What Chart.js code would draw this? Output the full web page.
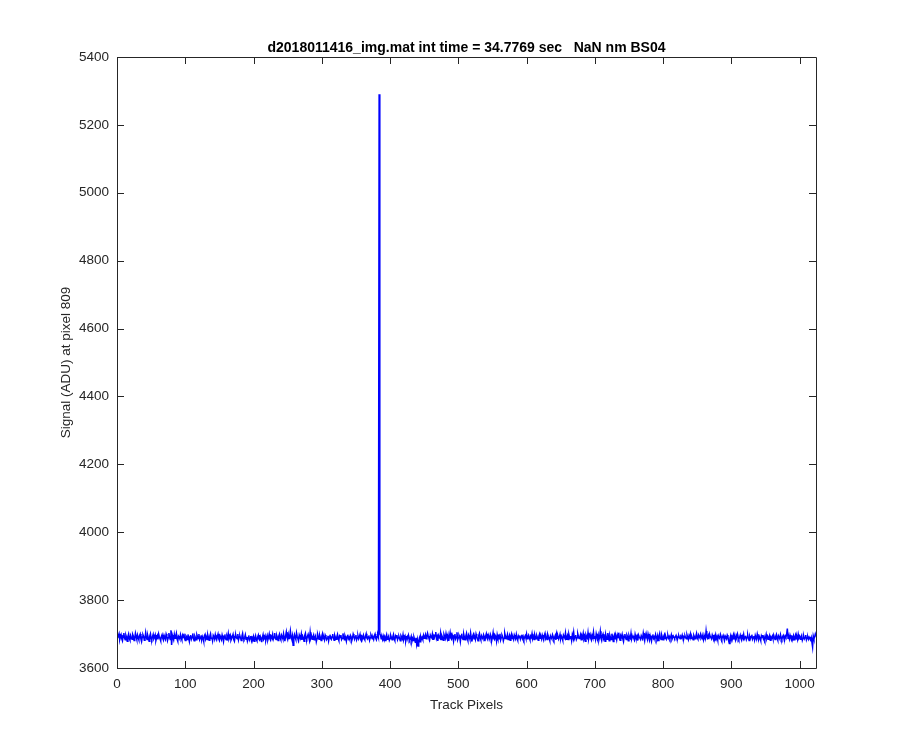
<!DOCTYPE html>
<html>
<head>
<meta charset="utf-8">
<script src="https://cdn.jsdelivr.net/npm/chart.js@4"></script>
<style>
  html, body { margin: 0; padding: 0; background: #ffffff; }
</style>
</head>
<body>
<canvas id="myChart" width="900" height="750"></canvas>
<script>
var titleText = "d2018011416_img.mat int time = 34.7769 sec   NaN nm BS04";
var xLabel = "Track Pixels";
var yLabel = "Signal (ADU) at pixel 809";
var xTicks = [0, 100, 200, 300, 400, 500, 600, 700, 800, 900, 1000];
var yTicks = [3600, 3800, 4000, 4200, 4400, 4600, 4800, 5000, 5200, 5400];

// signal at each track pixel, 1..1024
var signal = [
  3688,3695,3701,3684,3692,3698,3686,3680,3694,3703,3689,3683,3697,3691,3679,3693,3700,3687,3682,3696,3690,3685,3699,3694,3681,3688,3702,3692,3684,3697,3689,3683,
  3695,3700,3686,3678,3691,3698,3693,3682,3687,3704,3690,3684,3696,3688,3679,3694,3701,3687,3683,3692,3699,3686,3690,3697,3681,3689,3695,3684,3700,3692,3686,3680,
  3693,3698,3687,3682,3696,3690,3685,3700,3694,3681,3689,3703,3692,3684,3711,3668,3697,3690,3683,3699,3688,3693,3702,3685,3679,3694,3691,3686,3698,3689,3683,3696,
  3690,3701,3687,3681,3695,3692,3684,3699,3688,3678,3693,3697,3685,3691,3702,3686,3680,3694,3689,3683,3698,3692,3687,3700,3684,3690,3696,3682,3693,3688,3679,3695,
  3699,3686,3691,3684,3697,3689,3682,3694,3701,3687,3690,3680,3696,3692,3685,3698,3688,3683,3693,3700,3686,3681,3695,3690,3684,3697,3689,3678,3692,3699,3686,3683,
  3694,3688,3701,3685,3690,3696,3682,3687,3693,3699,3684,3679,3692,3697,3689,3686,3700,3683,3691,3695,3688,3681,3694,3702,3687,3684,3690,3698,3685,3692,3680,3689,
  3696,3683,3688,3694,3681,3690,3686,3693,3679,3687,3695,3684,3680,3691,3697,3685,3682,3693,3688,3676,3690,3698,3684,3687,3694,3681,3689,3696,3683,3690,3700,3686,
  3682,3693,3689,3699,3685,3691,3703,3687,3684,3696,3690,3681,3694,3700,3688,3683,3697,3692,3686,3701,3689,3679,3695,3706,3690,3684,3698,3687,3693,3709,3692,3685,
  3695,3667,3688,3698,3690,3684,3703,3693,3686,3681,3697,3691,3688,3700,3683,3694,3689,3679,3696,3702,3687,3684,3693,3699,3690,3682,3705,3688,3694,3685,3691,3697,
  3683,3690,3695,3678,3687,3699,3692,3685,3696,3689,3681,3694,3701,3686,3690,3683,3697,3692,3684,3688,3695,3680,3691,3698,3687,3684,3693,3700,3688,3682,3696,3690,
  3685,3692,3699,3687,3681,3694,3690,3697,3684,3688,3702,3691,3683,3695,3689,3679,3693,3698,3686,3690,3684,3696,3692,3681,3688,3700,3694,3685,3691,3697,3683,3689,
  3695,3686,3692,3699,3684,3680,3693,3690,3697,3687,3683,3694,3701,3688,3685,3691,3696,3682,3689,3698,3693,3686,3690,3684,3695,3700,3688,3683,3692,3697,3690,5290,
  3700,3697,3686,3691,3684,3695,3688,3693,3681,3690,3698,3685,3689,3694,3682,3687,3696,3690,3683,3692,3699,3686,3681,3694,3689,3697,3684,3690,3693,3687,3680,3695,
  3691,3686,3698,3683,3689,3694,3679,3688,3692,3685,3697,3690,3682,3686,3693,3678,3687,3681,3691,3684,3676,3689,3670,3683,3665,3680,3688,3677,3692,3685,3690,3684,
  3696,3688,3693,3699,3686,3691,3702,3694,3687,3683,3697,3692,3689,3700,3685,3694,3690,3698,3706,3687,3693,3680,3696,3691,3688,3703,3684,3695,3690,3682,3699,3693,
  3687,3701,3690,3684,3696,3680,3693,3704,3688,3685,3698,3692,3679,3694,3700,3686,3691,3705,3683,3689,3697,3692,3678,3695,3701,3687,3684,3699,3690,3683,3694,3702,
  3688,3681,3697,3692,3685,3703,3690,3678,3694,3699,3686,3691,3684,3700,3693,3687,3680,3696,3702,3689,3683,3695,3690,3686,3698,3692,3679,3694,3701,3688,3684,3697,
  3691,3685,3699,3693,3681,3690,3704,3687,3684,3696,3692,3679,3698,3689,3694,3686,3701,3683,3690,3697,3692,3680,3688,3703,3694,3686,3691,3699,3684,3689,3696,3682,
  3693,3700,3687,3690,3684,3697,3691,3686,3699,3688,3682,3694,3689,3696,3685,3691,3698,3687,3693,3684,3690,3695,3688,3700,3686,3692,3697,3689,3683,3694,3690,3701,
  3687,3693,3684,3698,3691,3686,3695,3689,3682,3694,3700,3688,3692,3685,3697,3690,3683,3696,3702,3687,3691,3684,3699,3693,3688,3681,3695,3690,3686,3698,3692,3684,
  3690,3696,3683,3700,3688,3693,3685,3691,3699,3686,3694,3689,3682,3697,3692,3688,3703,3685,3690,3696,3684,3699,3691,3687,3694,3681,3698,3690,3705,3686,3692,3697,
  3684,3689,3701,3693,3687,3691,3698,3683,3695,3690,3702,3686,3692,3679,3697,3691,3688,3704,3685,3693,3699,3687,3682,3696,3690,3706,3688,3694,3684,3701,3692,3686,
  3697,3683,3692,3708,3688,3681,3695,3700,3687,3692,3679,3698,3690,3685,3703,3693,3680,3696,3689,3684,3701,3691,3678,3694,3699,3686,3692,3683,3697,3690,3704,3688,
  3682,3695,3691,3699,3686,3678,3693,3700,3689,3684,3697,3692,3680,3696,3690,3687,3702,3685,3691,3694,3688,3683,3699,3690,3686,3693,3681,3697,3692,3688,3684,3695,
  3690,3686,3703,3692,3681,3697,3689,3694,3685,3700,3691,3683,3696,3688,3679,3693,3699,3687,3691,3684,3698,3690,3686,3695,3681,3692,3701,3688,3684,3697,3690,3683,
  3694,3699,3687,3692,3685,3690,3696,3688,3693,3686,3691,3698,3684,3689,3694,3690,3687,3692,3696,3688,3684,3691,3695,3689,3686,3693,3690,3697,3688,3684,3692,3695,
  3689,3686,3698,3691,3684,3695,3690,3700,3687,3693,3688,3683,3696,3691,3686,3694,3702,3689,3685,3697,3692,3688,3700,3694,3686,3691,3683,3697,3690,3687,3709,3692,
  3688,3695,3685,3700,3693,3690,3686,3697,3691,3684,3694,3689,3698,3686,3692,3683,3695,3690,3687,3699,3693,3685,3691,3696,3688,3682,3694,3690,3686,3697,3692,3680,
  3672,3689,3696,3684,3693,3690,3698,3686,3691,3683,3695,3688,3700,3692,3685,3690,3697,3687,3682,3694,3689,3699,3686,3691,3695,3684,3690,3697,3688,3681,3693,3687,
  3692,3698,3685,3690,3694,3683,3696,3689,3686,3700,3691,3684,3693,3688,3681,3695,3690,3697,3686,3692,3683,3689,3699,3687,3693,3685,3690,3696,3682,3691,3688,3694,
  3686,3697,3690,3684,3693,3699,3688,3682,3695,3691,3686,3698,3689,3684,3692,3696,3687,3683,3694,3690,3700,3716,3688,3693,3685,3697,3690,3684,3692,3688,3695,3683,
  3690,3697,3686,3692,3684,3699,3689,3693,3685,3691,3696,3682,3688,3694,3686,3690,3697,3683,3689,3692,3685,3691,3687,3683,3690,3676,3662,3694,3686,3691,3700,3693
];

var points = [];
for (var i = 0; i < signal.length; i++) {
  points.push({ x: i + 1, y: signal[i] });
}

var fontFamily = "'Liberation Sans', Arial, Helvetica, sans-serif";
var axisColor = "#262626";

// matlab style box with inward tick marks, title centred on the axes
var boxPlugin = {
  id: "matlabBox",
  afterDraw: function (chart) {
    var c = chart.ctx;
    var a = chart.chartArea;
    var xs = chart.scales.x;
    var ys = chart.scales.y;
    var len = 7;
    c.save();
    c.strokeStyle = axisColor;
    c.lineWidth = 1;
    c.beginPath();
    c.rect(a.left + 0.5, a.top + 0.5, a.right - a.left, a.bottom - a.top);
    xs.ticks.forEach(function (t) {
      var px = Math.round(xs.getPixelForValue(t.value)) + 0.5;
      c.moveTo(px, a.bottom);
      c.lineTo(px, a.bottom - len);
      c.moveTo(px, a.top);
      c.lineTo(px, a.top + len);
    });
    ys.ticks.forEach(function (t) {
      var py = Math.round(ys.getPixelForValue(t.value)) + 0.5;
      c.moveTo(a.left, py);
      c.lineTo(a.left + len, py);
      c.moveTo(a.right, py);
      c.lineTo(a.right - len, py);
    });
    c.stroke();

    c.fillStyle = "#000000";
    c.font = "bold 14px " + fontFamily;
    c.textAlign = "center";
    c.textBaseline = "alphabetic";
    c.fillText(titleText, (a.left + a.right) / 2, 52);
    c.restore();
  }
};

var ctx = document.getElementById("myChart").getContext("2d");
var myChart = new Chart(ctx, {
  type: "line",
  data: {
    datasets: [
      {
        data: points,
        borderColor: "#0000ff",
        borderWidth: 1.5,
        pointRadius: 0,
        fill: false,
        tension: 0,
      },
    ],
  },
  options: {
    responsive: false,
    animation: false,
    layout: { padding: { left: 0, right: 84, top: 57, bottom: 0 } },
    plugins: {
      legend: { display: false },
      tooltip: { enabled: false },
      title: { display: false },
    },
    scales: {
      x: {
        type: "linear",
        min: 0,
        max: 1024,
        afterBuildTicks: function (scale) {
          scale.ticks = xTicks.map(function (v) { return { value: v }; });
        },
        afterFit: function (scale) { scale.height = 82; },
        grid: { display: false, drawTicks: false },
        border: { display: false },
        ticks: {
          color: axisColor,
          padding: 8,
          maxRotation: 0,
          font: { family: fontFamily, size: 13.5 },
          callback: function (v) { return String(v); },
        },
        title: {
          display: true,
          text: xLabel,
          color: axisColor,
          font: { family: fontFamily, size: 13.5 },
          padding: { top: 0, bottom: 37 },
        },
      },
      y: {
        type: "linear",
        min: 3600,
        max: 5400,
        afterBuildTicks: function (scale) {
          scale.ticks = yTicks.map(function (v) { return { value: v }; });
        },
        afterFit: function (scale) { scale.width = 117; },
        grid: { display: false, drawTicks: false },
        border: { display: false },
        ticks: {
          color: axisColor,
          padding: 8,
          font: { family: fontFamily, size: 13.5 },
          callback: function (v) { return String(v); },
        },
        title: {
          display: true,
          text: yLabel,
          color: axisColor,
          font: { family: fontFamily, size: 13.5 },
          padding: { top: 58, bottom: 0 },
        },
      },
    },
  },
  plugins: [boxPlugin],
});
</script>
</body>
</html>
